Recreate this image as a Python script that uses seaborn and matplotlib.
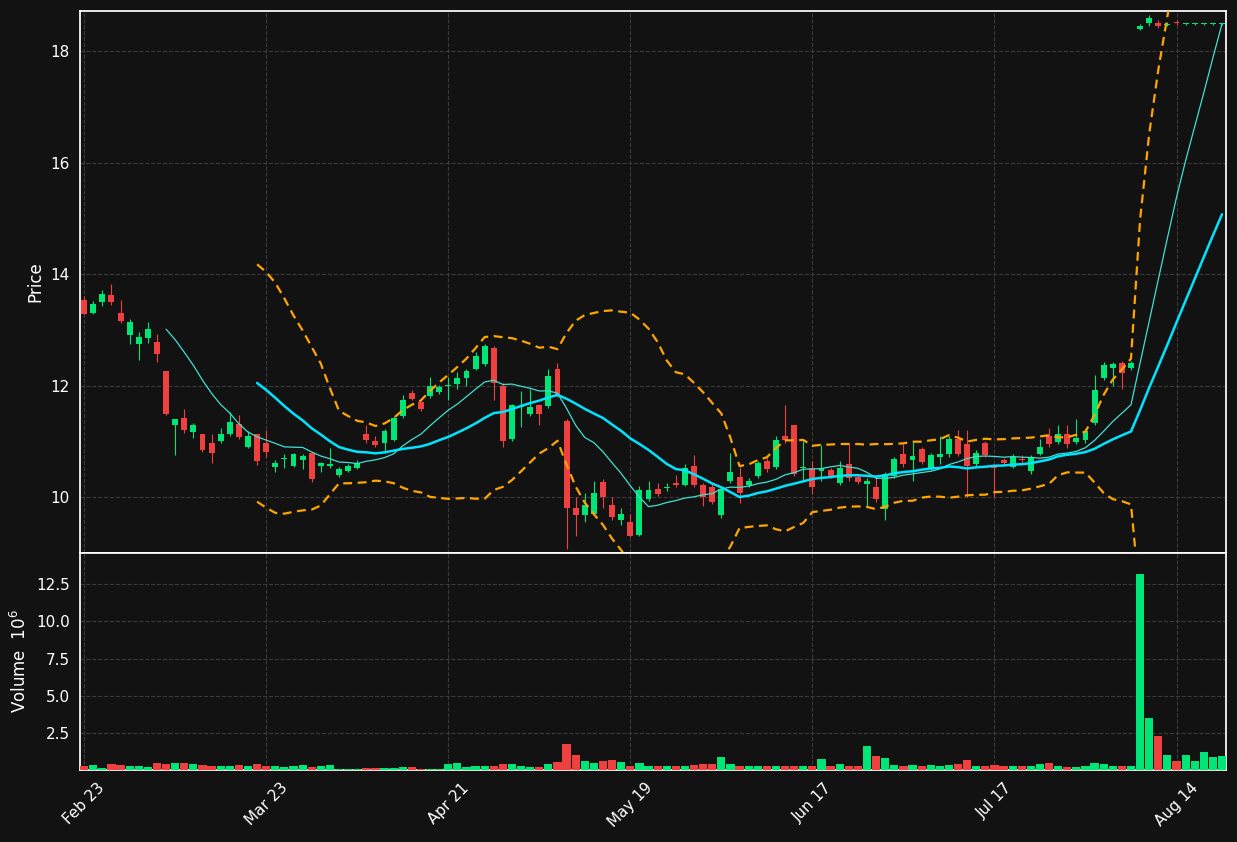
import numpy as np
import pandas as pd
import seaborn as sns
from matplotlib import pyplot as plt

# daily OHLC (price) and volume (millions)
opens = [13.53, 13.30, 13.50, 13.62, 13.31, 12.91, 12.75, 12.86, 12.78, 12.26,
         11.30, 11.43, 11.17, 11.13, 10.97, 11.00, 11.13, 11.31, 10.90, 11.13,
         10.97, 10.54, 10.68, 10.56, 10.67, 10.79, 10.56, 10.56, 10.40, 10.47,
         10.53, 11.13, 11.00, 10.97, 11.02, 11.45, 11.87, 11.70, 11.81, 11.88,
         11.99, 12.03, 12.13, 12.30, 12.39, 12.67, 12.00, 11.04, 11.61, 11.50,
         11.65, 11.63, 12.30, 11.36, 9.80, 9.68, 9.70, 10.27, 9.87, 9.59,
         9.55, 9.32, 9.96, 10.14, 10.17, 10.25, 10.22, 10.56, 10.22, 10.18,
         9.68, 10.29, 10.36, 10.22, 10.39, 10.65, 10.54, 11.09, 11.29, 10.52,
         10.52, 10.47, 10.48, 10.25, 10.59, 10.36, 10.24, 10.18, 9.79, 10.39,
         10.77, 10.66, 10.86, 10.52, 10.73, 10.77, 11.04, 10.95, 10.59, 10.97,
         10.56, 10.66, 10.54, 10.69, 10.47, 10.77, 11.09, 10.99, 11.13, 10.99,
         11.02, 11.33, 12.13, 12.31, 12.40, 12.31, 18.40, 18.50, 18.50, 18.47,
         18.52, 18.48, 18.48, 18.48, 18.48, 18.48]
closes = [13.29, 13.46, 13.64, 13.50, 13.16, 13.14, 12.87, 13.01, 12.57, 11.50,
          11.40, 11.21, 11.30, 10.84, 10.79, 11.13, 11.35, 11.08, 11.09, 10.65,
          10.81, 10.62, 10.68, 10.78, 10.74, 10.32, 10.62, 10.60, 10.50, 10.56,
          10.62, 11.03, 10.94, 11.18, 11.42, 11.74, 11.76, 11.58, 12.00, 11.97,
          11.99, 12.13, 12.26, 12.53, 12.71, 12.05, 11.00, 11.65, 11.61, 11.61,
          11.50, 12.17, 11.83, 9.80, 9.68, 9.87, 10.07, 10.00, 9.64, 9.70,
          9.30, 10.13, 10.13, 10.05, 10.17, 10.22, 10.52, 10.22, 10.01, 9.91,
          10.14, 10.45, 10.07, 10.29, 10.61, 10.50, 11.02, 11.02, 10.41, 10.52,
          10.18, 10.52, 10.39, 10.52, 10.34, 10.27, 10.29, 9.96, 10.41, 10.68,
          10.59, 10.74, 10.63, 10.75, 10.77, 11.04, 10.77, 10.56, 10.79, 10.75,
          10.52, 10.61, 10.72, 10.66, 10.72, 10.91, 10.95, 11.13, 10.95, 11.06,
          11.18, 11.92, 12.37, 12.39, 12.22, 12.40, 18.45, 18.60, 18.45, 18.49,
          18.50, 18.48, 18.48, 18.48, 18.48, 18.48]
highs = [13.60, 13.52, 13.71, 13.82, 13.53, 13.20, 12.97, 13.15, 12.92, 12.26,
         11.40, 11.58, 11.34, 11.13, 11.13, 11.24, 11.52, 11.47, 11.18, 11.13,
         11.20, 10.66, 10.77, 10.80, 10.78, 10.79, 10.64, 10.88, 10.55, 10.60,
         10.66, 11.30, 11.10, 11.22, 11.45, 11.83, 11.92, 11.72, 12.15, 12.02,
         12.15, 12.25, 12.30, 12.60, 12.75, 12.72, 12.05, 11.68, 11.90, 11.95,
         11.68, 12.30, 12.40, 11.40, 10.00, 10.07, 10.30, 10.32, 10.00, 9.80,
         9.70, 10.20, 10.30, 10.25, 10.25, 10.40, 10.60, 10.75, 10.25, 10.25,
         10.20, 10.80, 10.55, 10.35, 10.65, 10.70, 11.10, 11.65, 11.30, 11.00,
         10.65, 10.93, 10.52, 10.65, 10.95, 10.40, 10.35, 10.40, 10.45, 10.72,
         10.95, 11.00, 10.90, 10.80, 11.10, 11.10, 11.20, 11.20, 10.85, 11.00,
         10.60, 10.70, 10.78, 10.76, 10.75, 11.05, 11.25, 11.30, 11.30, 11.40,
         11.22, 12.20, 12.42, 12.42, 12.45, 12.45, 18.48, 18.64, 18.55, 18.52,
         18.55, 18.50, 18.50, 18.50, 18.50, 18.50]
lows = [13.28, 13.28, 13.43, 13.45, 13.12, 12.75, 12.46, 12.76, 12.42, 11.48,
        10.75, 11.15, 11.06, 10.82, 10.61, 10.98, 11.10, 11.05, 10.88, 10.58,
        10.73, 10.45, 10.52, 10.54, 10.50, 10.28, 10.45, 10.53, 10.36, 10.45,
        10.50, 10.98, 10.90, 10.80, 11.00, 11.42, 11.74, 11.54, 11.78, 11.85,
        11.75, 11.95, 12.00, 12.28, 12.36, 11.74, 10.90, 11.00, 11.26, 11.45,
        11.30, 11.60, 11.80, 9.08, 9.30, 9.55, 9.68, 9.80, 9.60, 9.50,
        9.28, 9.30, 9.93, 10.02, 10.12, 10.18, 10.20, 10.18, 9.85, 9.88,
        9.62, 10.26, 9.90, 10.18, 10.35, 10.46, 10.50, 10.98, 10.38, 10.30,
        10.05, 10.30, 10.35, 10.22, 10.30, 10.24, 9.85, 9.92, 9.60, 10.35,
        10.55, 10.30, 10.60, 10.48, 10.60, 10.72, 10.74, 10.00, 10.55, 10.72,
        10.00, 10.58, 10.52, 10.60, 10.42, 10.75, 10.90, 10.95, 10.88, 10.95,
        10.98, 11.30, 12.10, 12.00, 11.95, 12.28, 18.38, 18.45, 18.42, 18.45,
        18.46, 18.46, 18.46, 18.46, 18.46, 18.46]
volumes = [0.30, 0.35, 0.15, 0.40, 0.35, 0.30, 0.30, 0.20, 0.45, 0.40,
           0.45, 0.50, 0.40, 0.35, 0.25, 0.25, 0.25, 0.35, 0.25, 0.40,
           0.30, 0.25, 0.20, 0.30, 0.35, 0.20, 0.25, 0.35, 0.05, 0.05,
           0.10, 0.15, 0.15, 0.15, 0.15, 0.20, 0.20, 0.10, 0.10, 0.10,
           0.40, 0.45, 0.20, 0.25, 0.30, 0.25, 0.40, 0.40, 0.25, 0.20,
           0.20, 0.40, 0.55, 1.75, 1.00, 0.60, 0.50, 0.60, 0.65, 0.55,
           0.30, 0.45, 0.30, 0.25, 0.25, 0.25, 0.30, 0.35, 0.40, 0.40,
           0.85, 0.40, 0.30, 0.25, 0.25, 0.30, 0.30, 0.30, 0.30, 0.30,
           0.25, 0.75, 0.25, 0.40, 0.25, 0.25, 1.60, 0.95, 0.80, 0.35,
           0.30, 0.35, 0.30, 0.35, 0.30, 0.35, 0.40, 0.70, 0.25, 0.30,
           0.35, 0.30, 0.30, 0.25, 0.25, 0.40, 0.45, 0.25, 0.20, 0.20,
           0.30, 0.45, 0.40, 0.25, 0.30, 0.30, 13.20, 3.50, 2.30, 1.00,
           0.60, 1.00, 0.60, 1.20, 0.90, 0.95]
tick_pos = [0, 20, 40, 60, 80, 100, 120]
tick_labels = ['Feb 23', 'Mar 23', 'Apr 21', 'May 19', 'Jun 17', 'Jul 17', 'Aug 14']

up_col = '#00e676'
down_col = '#ef4040'
bg = '#121212'

df = pd.DataFrame({'open': opens, 'high': highs, 'low': lows,
                   'close': closes, 'volume': volumes})
df['i'] = np.arange(len(df))
df['mav10'] = df['close'].rolling(10).mean()
df['mav20'] = df['close'].rolling(20).mean()
std20 = df['close'].rolling(20).std(ddof=0)
df['upper'] = df['mav20'] + 2 * std20
df['lower'] = df['mav20'] - 2 * std20
up = df['close'] >= df['open']
cols = np.where(up, up_col, down_col)

sns.set_theme(style='darkgrid', rc={
    'axes.facecolor': bg, 'figure.facecolor': bg, 'axes.edgecolor': 'white',
    'grid.color': '#3a3a3a', 'grid.linestyle': '--', 'grid.linewidth': 0.8,
    'text.color': 'white', 'axes.labelcolor': 'white',
    'xtick.color': 'white', 'ytick.color': 'white'})
plt.rcParams['font.family'] = ['DejaVu Sans']

fig = plt.figure(figsize=(12.37, 8.42), dpi=100)
ax = fig.add_axes([0.0647, 0.3432, 0.9265, 0.6438])
axv = fig.add_axes([0.0647, 0.0855, 0.9265, 0.2577], sharex=ax)

# candles
ax.vlines(df['i'], df['low'], df['high'], colors=cols, linewidth=0.8, zorder=3)
body = (df['close'] - df['open']).abs().clip(lower=0.02)
ax.bar(df['i'], body, bottom=df[['open', 'close']].min(axis=1), width=0.65,
       color=cols, linewidth=0, zorder=4)

sns.lineplot(data=df, x='i', y='mav10', ax=ax, color='#40e0d0', linewidth=0.9, zorder=5)
sns.lineplot(data=df, x='i', y='mav20', ax=ax, color='#00e5ff', linewidth=1.8, zorder=5)
for c in ['upper', 'lower']:
    sns.lineplot(data=df, x='i', y=c, ax=ax, color='orange', linewidth=1.6,
                 linestyle=(0, (4, 2.5)), zorder=5)

ax.set_ylim(9.0, 18.72)
ax.set_yticks([10, 12, 14, 16, 18])
ax.set_ylabel('Price')
ax.set_xlabel('')
ax.tick_params(axis='x', labelbottom=False, length=0)

axv.bar(df['i'], df['volume'], width=0.9, color=cols, linewidth=0, zorder=3)
axv.set_ylim(0, 14.6)
axv.set_yticks([2.5, 5.0, 7.5, 10.0, 12.5])
axv.set_ylabel('Volume  $10^6$')
axv.set_xlim(-0.45, 125.45)
axv.set_xticks(tick_pos)
axv.set_xticklabels(tick_labels, rotation=45, ha='center')
axv.set_xlabel('')

for a in (ax, axv):
    a.tick_params(axis='y', length=4, labelsize=11)
    for s in a.spines.values():
        s.set_visible(True)
        s.set_color('white')
axv.tick_params(axis='x', labelsize=11, length=4)

fig.savefig('out.png', dpi=100, facecolor=bg)
